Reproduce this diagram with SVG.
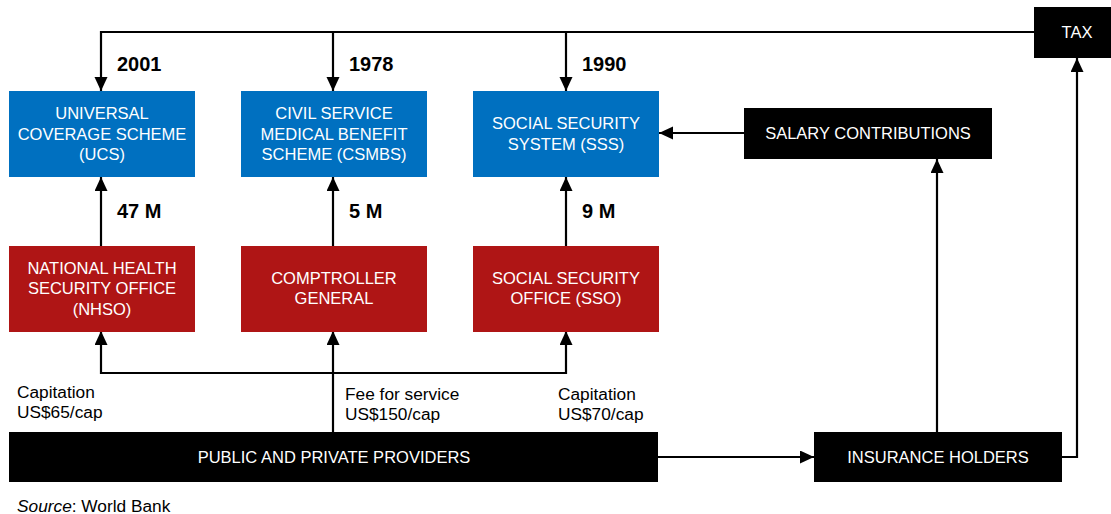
<svg xmlns="http://www.w3.org/2000/svg" width="1111" height="514" viewBox="0 0 1111 514">
<style>
.blue{fill:#0070C0}
.red{fill:#AF1515}
.blk{fill:#000}
.bt{font-family:"Liberation Sans",Arial,sans-serif;font-size:16.5px;fill:#fff;text-anchor:middle}
.lbl{font-family:"Liberation Sans",Arial,sans-serif;font-size:17.3px;fill:#000}
.num{font-family:"Liberation Sans",Arial,sans-serif;font-size:20px;font-weight:bold;fill:#000}
.ln{fill:none;stroke:#000;stroke-width:2.2}
</style>
<defs>
<marker id="ah" markerUnits="userSpaceOnUse" markerWidth="14" markerHeight="14" refX="14" refY="6.5" orient="auto">
<path d="M0,0 L14,6.5 L0,13 z" fill="#000"/>
</marker>
</defs>
<rect width="1111" height="514" fill="#fff"/>
<g id="connectors">
<path class="ln" d="M1034,32 H101 V91" marker-end="url(#ah)"/>
<path class="ln" d="M333,32 V91" marker-end="url(#ah)"/>
<path class="ln" d="M566,32 V91" marker-end="url(#ah)"/>
<path class="ln" d="M101,246 V177" marker-end="url(#ah)"/>
<path class="ln" d="M333,246 V177" marker-end="url(#ah)"/>
<path class="ln" d="M566,246 V177" marker-end="url(#ah)"/>
<path class="ln" d="M333,432 V331" marker-end="url(#ah)"/>
<path class="ln" d="M333,373 H101 V331" marker-end="url(#ah)"/>
<path class="ln" d="M333,373 H566 V331" marker-end="url(#ah)"/>
<path class="ln" d="M744,133 H659" marker-end="url(#ah)"/>
<path class="ln" d="M658,457 H814" marker-end="url(#ah)"/>
<path class="ln" d="M937,432 V159" marker-end="url(#ah)"/>
<path class="ln" d="M1062,457 H1077 V58" marker-end="url(#ah)"/>
</g>
<g id="labels">
<text class="num" x="117" y="71">2001</text>
<text class="num" x="349" y="71">1978</text>
<text class="num" x="582" y="71">1990</text>
<text class="num" x="117" y="218">47 M</text>
<text class="num" x="349" y="218">5 M</text>
<text class="num" x="582" y="218">9 M</text>
<text class="lbl" x="17" y="398">Capitation</text>
<text class="lbl" x="17" y="418">US$65/cap</text>
<text class="lbl" x="345" y="400">Fee for service</text>
<text class="lbl" x="345" y="420">US$150/cap</text>
<text class="lbl" x="558" y="400">Capitation</text>
<text class="lbl" x="558" y="420">US$70/cap</text>
<text class="lbl" x="17" y="512"><tspan font-style="italic">Source</tspan>: World Bank</text>
</g>
<g id="ucs">
<rect class="blue" x="9" y="91" width="186" height="86"/>
<text class="bt" x="102" y="119">UNIVERSAL</text>
<text class="bt" x="102" y="139.5">COVERAGE SCHEME</text>
<text class="bt" x="102" y="160">(UCS)</text>
</g>
<g id="csmbs">
<rect class="blue" x="241" y="91" width="186" height="86"/>
<text class="bt" x="334" y="119">CIVIL SERVICE</text>
<text class="bt" x="334" y="139.5">MEDICAL BENEFIT</text>
<text class="bt" x="334" y="160">SCHEME (CSMBS)</text>
</g>
<g id="sss">
<rect class="blue" x="473" y="91" width="186" height="86"/>
<text class="bt" x="566" y="129.3">SOCIAL SECURITY</text>
<text class="bt" x="566" y="150">SYSTEM (SSS)</text>
</g>
<g id="nhso">
<rect class="red" x="9" y="246" width="186" height="86"/>
<text class="bt" x="102" y="273.5">NATIONAL HEALTH</text>
<text class="bt" x="102" y="294">SECURITY OFFICE</text>
<text class="bt" x="102" y="315">(NHSO)</text>
</g>
<g id="comptroller">
<rect class="red" x="241" y="246" width="186" height="86"/>
<text class="bt" x="334" y="283.5">COMPTROLLER</text>
<text class="bt" x="334" y="304.3">GENERAL</text>
</g>
<g id="sso">
<rect class="red" x="473" y="246" width="186" height="86"/>
<text class="bt" x="566" y="283.5">SOCIAL SECURITY</text>
<text class="bt" x="566" y="304.3">OFFICE (SSO)</text>
</g>
<g id="salary">
<rect class="blk" x="744" y="108" width="248" height="51"/>
<text class="bt" x="868" y="139">SALARY CONTRIBUTIONS</text>
</g>
<g id="tax">
<rect class="blk" x="1034" y="7" width="77" height="51"/>
<text class="bt" x="1077" y="38">TAX</text>
</g>
<g id="providers">
<rect class="blk" x="9" y="432" width="649" height="50"/>
<text class="bt" x="334" y="463">PUBLIC AND PRIVATE PROVIDERS</text>
</g>
<g id="insurance">
<rect class="blk" x="814" y="432" width="248" height="50"/>
<text class="bt" x="938" y="463">INSURANCE HOLDERS</text>
</g>
</svg>
